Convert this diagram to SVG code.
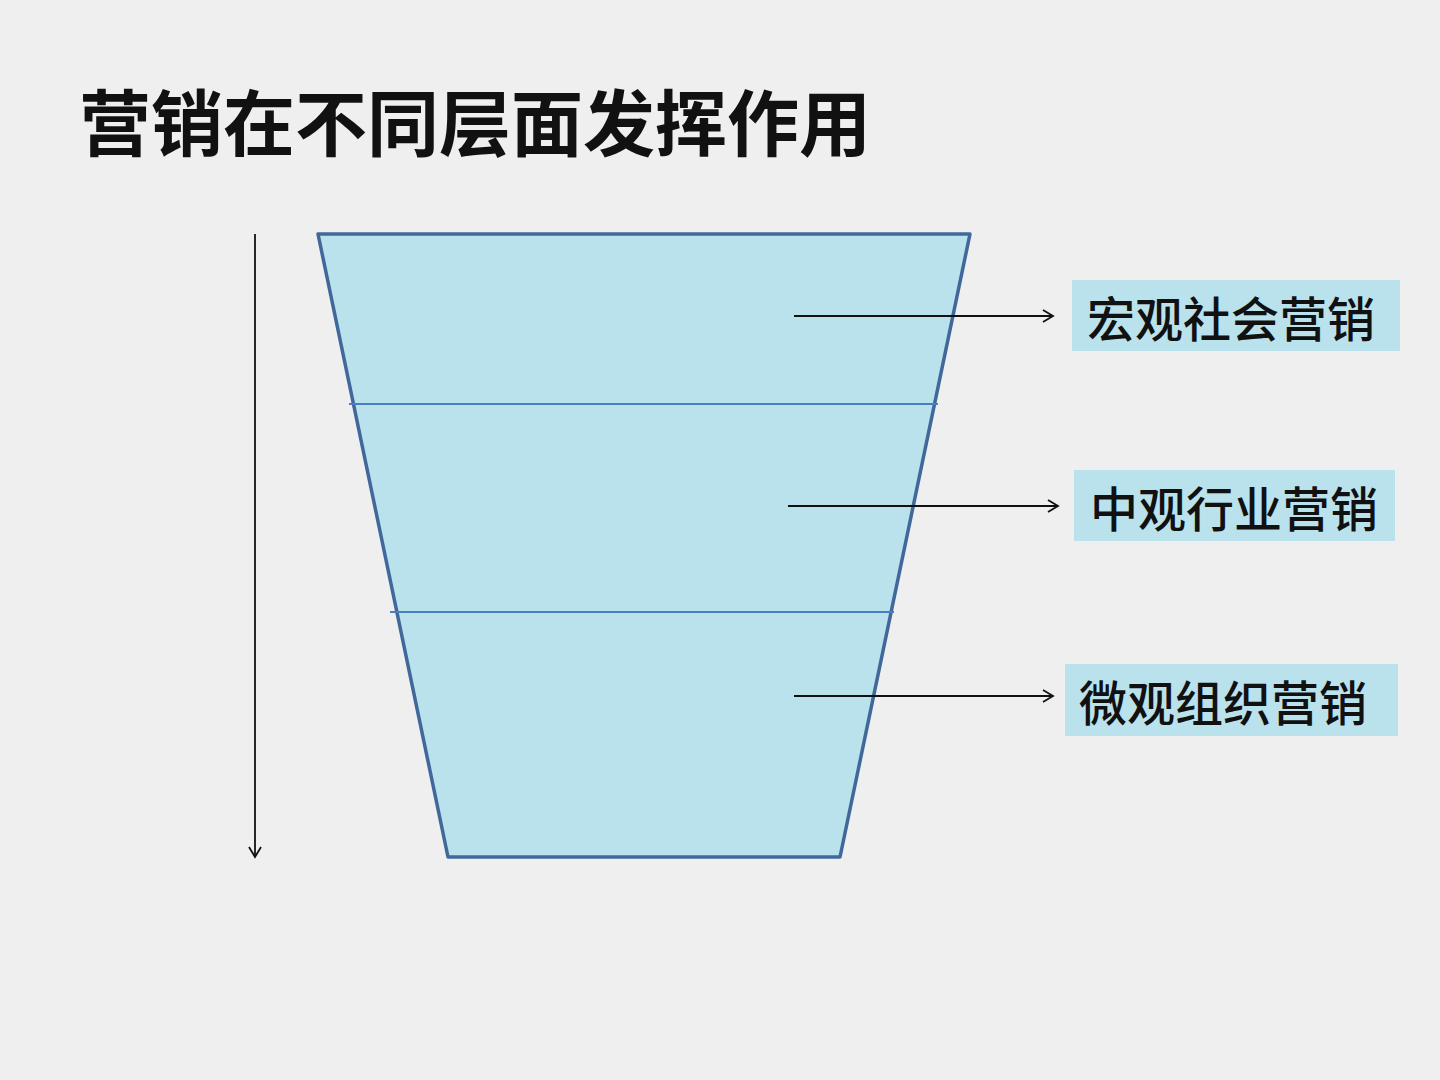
<svg xmlns="http://www.w3.org/2000/svg" width="1440" height="1080" viewBox="0 0 1440 1080">
<style>
.title{font-family:"Noto Sans CJK SC","Liberation Sans",sans-serif;font-size:72px;font-weight:bold;fill:#111}
.lbl{font-family:"Noto Sans CJK SC","Liberation Sans",sans-serif;font-size:48px;font-weight:500;fill:#111}
.box{fill:#bae2ec}
.conn{stroke:#111;stroke-width:1.8;fill:none}
.div{stroke:#4a7ec0;stroke-width:2;fill:none}
</style>
<defs>
<marker id="arr" markerWidth="14" markerHeight="14" refX="12" refY="7" orient="auto" markerUnits="userSpaceOnUse">
<path d="M2,1 L12,7 L2,13" fill="none" stroke="#111" stroke-width="1.8"/>
</marker>
</defs>
<rect width="1440" height="1080" fill="#efefef"/>
<text class="title" x="79" y="150">营销在不同层面发挥作用</text>
<g id="funnel">
<polygon points="318,234 970,234 840,857 448,857" fill="#bae2ec" stroke="#41689a" stroke-width="3.5" stroke-linejoin="round"/>
<line class="div" x1="349" y1="404" x2="938" y2="404"/>
<line class="div" x1="390" y1="612" x2="894" y2="612"/>
</g>
<g id="macro">
<rect class="box" x="1072" y="280" width="328" height="71"/>
<text class="lbl" x="1087" y="337">宏观社会营销</text>
</g>
<g id="meso">
<rect class="box" x="1074" y="470" width="321" height="71"/>
<text class="lbl" x="1090" y="527">中观行业营销</text>
</g>
<g id="micro">
<rect class="box" x="1065" y="664" width="333" height="72"/>
<text class="lbl" x="1079" y="721">微观组织营销</text>
</g>
<g id="connectors">
<line class="conn" x1="255" y1="234" x2="255" y2="857" marker-end="url(#arr)"/>
<line class="conn" x1="794" y1="316" x2="1053" y2="316" marker-end="url(#arr)"/>
<line class="conn" x1="788" y1="506" x2="1058" y2="506" marker-end="url(#arr)"/>
<line class="conn" x1="794" y1="696" x2="1053" y2="696" marker-end="url(#arr)"/>
</g>
</svg>
